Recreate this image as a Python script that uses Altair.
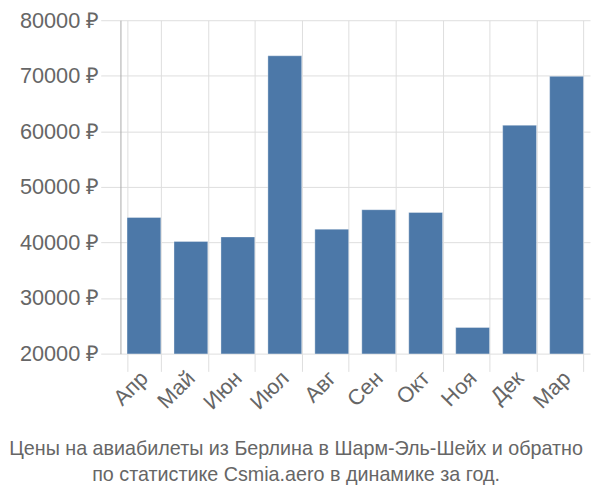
import altair as alt
import pandas as pd

months = ["Апр", "Май", "Июн", "Июл", "Авг", "Сен", "Окт", "Ноя", "Дек", "Мар"]
prices = [44500, 40200, 41000, 73600, 42400, 45900, 45400, 24700, 61100, 69900]
y_ticks = [20000, 30000, 40000, 50000, 60000, 70000, 80000]
title_lines = ["Цены на авиабилеты из Берлина в Шарм-Эль-Шейх и обратно",
               "по статистике Csmia.aero в динамике за год."]

df = pd.DataFrame({"month": months, "price": prices})

FONT = "Liberation Sans"
GRID = "#dddddd"
TXT = "#666666"

chart = alt.Chart(df).mark_bar(color="#4c78a8", stroke="#ffffff", strokeOpacity=0.35,
                               strokeWidth=1, clip=True).encode(
    x=alt.X("month:N", sort=months,
            scale=alt.Scale(paddingInner=0.28, paddingOuter=0.14),
            axis=alt.Axis(title=None, tickBand="extent", grid=True, gridColor=GRID,
                          tickColor=GRID, tickSize=18, domain=False,
                          labelAngle=-45, labelAlign="right", labelBaseline="middle",
                          labelFontSize=22, labelColor=TXT, labelFont=FONT, labelPadding=3)),
    y=alt.Y("price:Q", scale=alt.Scale(domain=[20000, 80000], nice=False, zero=False),
            axis=alt.Axis(title=None, values=y_ticks, labelExpr="datum.value + ' ₽'",
                          grid=True, gridColor=GRID, tickColor=GRID, tickSize=20,
                          domainColor="#aaaaaa", labelFontSize=22, labelColor=TXT,
                          labelFont=FONT, labelPadding=2)),
).properties(
    width=476, height=338,
    autosize=alt.AutoSizeParams(type="none"),
    padding={"left": 114, "top": 9, "right": 2, "bottom": 145},
    title=alt.TitleParams(title_lines, orient="bottom", anchor="middle",
                          fontSize=20, fontWeight="normal", color=TXT, font=FONT,
                          offset=26, lineHeight=27, dx=-60),
).configure_view(stroke=None)

chart.save("out.html", embed_options={"renderer": "svg", "actions": False})
